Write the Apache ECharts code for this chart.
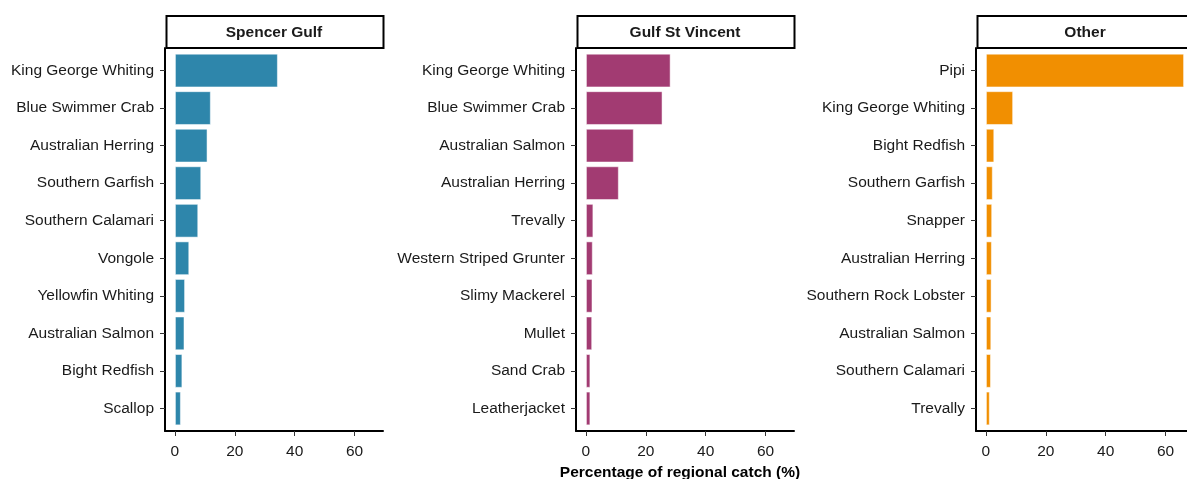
<!DOCTYPE html>
<html>
<head>
<meta charset="utf-8">
<script src="https://cdn.jsdelivr.net/npm/echarts@6/dist/echarts.min.js"></script>
<style>
  html, body { margin: 0; padding: 0; background: #fff; }
  #chart_001 { width: 1187px; height: 479px; }
</style>
</head>
<body>
<div id="chart_001"></div>
<script>
// regions (facet titles)
var regions = ['Spencer Gulf', 'Gulf St Vincent', 'Other'];

// species per region, top to bottom
var spencerSpecies = ['King George Whiting', 'Blue Swimmer Crab', 'Australian Herring', 'Southern Garfish',
  'Southern Calamari', 'Vongole', 'Yellowfin Whiting', 'Australian Salmon', 'Bight Redfish', 'Scallop'];
var spencerPct = [34.4, 12.0, 10.9, 8.8, 7.8, 4.8, 3.4, 3.2, 2.5, 2.0];

var gsvSpecies = ['King George Whiting', 'Blue Swimmer Crab', 'Australian Salmon', 'Australian Herring',
  'Trevally', 'Western Striped Grunter', 'Slimy Mackerel', 'Mullet', 'Sand Crab', 'Leatherjacket'];
var gsvPct = [28.3, 25.6, 16.0, 11.0, 2.5, 2.3, 2.2, 2.1, 1.5, 1.5];

var otherSpecies = ['Pipi', 'King George Whiting', 'Bight Redfish', 'Southern Garfish', 'Snapper',
  'Australian Herring', 'Southern Rock Lobster', 'Australian Salmon', 'Southern Calamari', 'Trevally'];
var otherPct = [66.2, 9.1, 2.8, 2.3, 2.1, 2.0, 1.9, 1.8, 1.7, 1.3];

var xTicks = [0, 20, 40, 60];
var xTitle = 'Percentage of regional catch (%)';

var colors = ['#2E86AB', '#A23B72', '#F18F01'];
var speciesList = [spencerSpecies, gsvSpecies, otherSpecies];
var pctList = [spencerPct, gsvPct, otherPct];

var myChart = echarts.init(document.getElementById('chart_001'));

var font = '"Liberation Sans", Arial, sans-serif';
var panelLeft = [165, 576, 976];
var fullW = 218;
var top0 = 48, h0 = 383;
var pad = 3.75;  // discrete axis expansion (0.6 of a band)
var xMin = -3.31, xMax = 69.51;
var chartW = 1187;

var grid = [], xAxis = [], yAxis = [], series = [], graphic = [];

for (var i = 0; i < 3; i++) {
    // last panel runs off the right edge: keep the same scale, cut the range
    var w = Math.min(fullW, chartW - panelLeft[i]);
    var max = xMin + (xMax - xMin) * w / fullW;

    // bar grid
    grid.push({ left: panelLeft[i], width: w, top: top0 + pad, height: h0 - 2 * pad });
    // frame grid (axis lines, x labels)
    grid.push({ left: panelLeft[i], width: w, top: top0, height: h0 });

    xAxis.push({
        gridIndex: 2 * i, type: 'value', min: xMin, max: max, show: false
    });
    yAxis.push({
        gridIndex: 2 * i, type: 'category', inverse: true, data: speciesList[i],
        axisLine: { show: false, onZero: false },
        axisTick: { show: true, length: 5, alignWithLabel: true, lineStyle: { color: '#333', width: 1 } },
        axisLabel: { margin: 11, fontSize: 15.5, color: '#1a1a1a', fontFamily: font, padding: [4, 0, 0, 0] },
        splitLine: { show: false }
    });

    xAxis.push({
        gridIndex: 2 * i + 1, type: 'value', min: xMin, max: max,
        axisLine: { show: true, onZero: false, lineStyle: { color: '#000', width: 2 } },
        axisTick: { show: true, length: 5, customValues: xTicks, lineStyle: { color: '#333', width: 1 } },
        axisLabel: { customValues: xTicks, margin: 13, fontSize: 15.5, color: '#1a1a1a', fontFamily: font },
        splitLine: { show: false }
    });
    yAxis.push({
        gridIndex: 2 * i + 1, type: 'value', min: 0, max: 1,
        axisLine: { show: true, onZero: false, lineStyle: { color: '#000', width: 2 } },
        axisTick: { show: false }, axisLabel: { show: false }, splitLine: { show: false }
    });

    series.push({
        name: regions[i], type: 'bar', xAxisIndex: 2 * i, yAxisIndex: 2 * i,
        data: pctList[i], barCategoryGap: '10%',
        itemStyle: { color: colors[i], borderColor: 'rgba(255,255,255,0.5)', borderWidth: 1 },
        silent: true
    });

    // facet strip
    graphic.push({
        type: 'rect', left: panelLeft[i] + 0.5, top: 15,
        shape: { width: fullW - 1, height: 32 },
        style: { fill: '#fff', stroke: '#000', lineWidth: 2 }
    });
    graphic.push({
        type: 'text', x: panelLeft[i] + fullW / 2, y: 33,
        style: { text: regions[i], fill: '#1a1a1a', font: 'bold 15.5px ' + font,
                 textAlign: 'center', textVerticalAlign: 'middle' }
    });
}

graphic.push({
    type: 'text', x: 680, y: 473,
    style: { text: xTitle, fill: '#000', font: 'bold 15.5px ' + font,
             textAlign: 'center', textVerticalAlign: 'middle' }
});

option = {
    backgroundColor: '#fff',
    animation: false,
    grid: grid,
    xAxis: xAxis,
    yAxis: yAxis,
    series: series,
    graphic: graphic
};

myChart.setOption(option);
</script>
</body>
</html>
